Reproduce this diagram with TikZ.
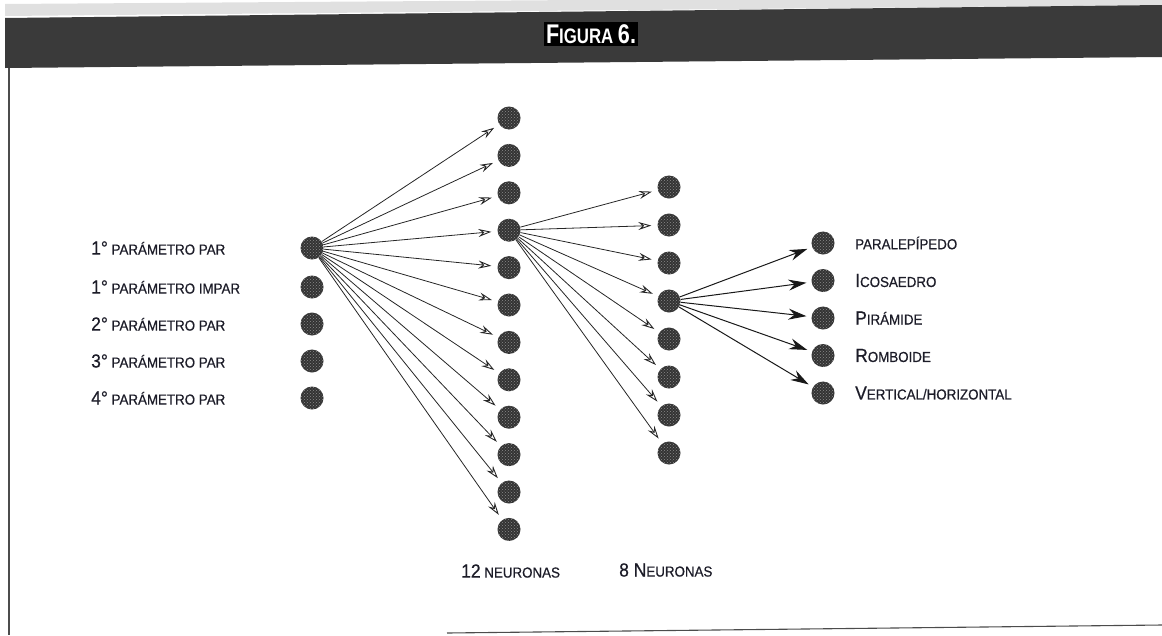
\documentclass[tikz,border=0pt]{standalone}
\usepackage{fontspec}
\setmainfont{Liberation Sans}[FakeStretch=0.92,FakeBold=0.6]
\newfontfamily\titlefont{Liberation Sans}[FakeStretch=0.8]
\usetikzlibrary{arrows.meta,patterns}
\newcommand\bg[1]{{\fontsize{19}{21}\selectfont #1}}
\newcommand\sm[1]{{\fontsize{14.5}{16}\selectfont #1}}
\definecolor{ink}{RGB}{28,28,40}
\definecolor{bar}{RGB}{58,58,58}
\tikzset{
  neuron/.style={circle,minimum size=23pt,inner sep=0pt,fill=black!80,
     postaction={pattern=crosshatch dots,pattern color=white!55!black}},
  lbl/.style={anchor=west,inner sep=0pt,text=ink},
  arrA/.style={draw=black!85,line width=0.8pt,shorten >=6pt,
     -{Stealth[open,length=13pt,width=8pt,inset=4.5pt,line width=0.9pt]}},
  arrB/.style={draw=black!90,line width=1pt,shorten >=5pt,
     -{Stealth[length=18pt,width=11pt,inset=6pt]}},
  frame/.style={draw=black!70,line width=1.4pt}
}
\begin{document}
\begin{tikzpicture}[x=1pt,y=-1pt]
\useasboundingbox (0,0) rectangle (1162,635);
% title bar
\fill[black!12] (5,4) -- (1162,-4) -- (1162,5) -- (5,16) -- cycle;
\fill[bar] (5,18) -- (1162,5) -- (1162,57) -- (5,68) -- cycle;
\node[fill=black,text=white,inner sep=2pt] (title) at (591,34)
  {\titlefont\bfseries\fontsize{27}{29}\selectfont F\fontsize{21}{23}\selectfont IGURA \fontsize{27}{29}\selectfont 6.};
% frame
\coordinate (fl1) at (9,68);
\coordinate (fl2) at (9,635);
\coordinate (fb1) at (447,633);
\coordinate (fb2) at (1162,625);
\draw[frame] (fl1) -- (fl2);
\draw[frame,line width=1.1pt] (fb1) -- (fb2);
% input layer
\foreach \i/\y in {1/248,2/287,3/324,4/361,5/398}
  \node[neuron] (in\i) at (312,\y) {};
\node[lbl] (l1) at (91,248) {\bg{1°}\sm{ PARÁMETRO PAR}};
\node[lbl] (l2) at (91,287) {\bg{1°}\sm{ PARÁMETRO IMPAR}};
\node[lbl] (l3) at (91,324) {\bg{2°}\sm{ PARÁMETRO PAR}};
\node[lbl] (l4) at (91,361) {\bg{3°}\sm{ PARÁMETRO PAR}};
\node[lbl] (l5) at (91,398) {\bg{4°}\sm{ PARÁMETRO PAR}};
% hidden layer 1
\foreach \i in {1,...,12}
  \node[neuron] (ha\i) at (509,{118+37.4*(\i-1)}) {};
% hidden layer 2
\foreach \i in {1,...,8}
  \node[neuron] (hb\i) at (669,{187+38*(\i-1)}) {};
% output layer
\foreach \i in {1,...,5}
  \node[neuron] (out\i) at (823,{243+37.5*(\i-1)}) {};
\node[lbl] (o1) at (855,243) {\sm{PARALEPÍPEDO}};
\node[lbl] (o2) at (855,280.5) {\bg{I}\sm{COSAEDRO}};
\node[lbl] (o3) at (855,318) {\bg{P}\sm{IRÁMIDE}};
\node[lbl] (o4) at (855,355.5) {\bg{R}\sm{OMBOIDE}};
\node[lbl] (o5) at (855,393) {\bg{V}\sm{ERTICAL/HORIZONTAL}};
% bottom labels
\node[lbl] (n12) at (461,571) {\bg{12}\sm{ NEURONAS}};
\node[lbl] (n8) at (619,570) {\bg{8 N}\sm{EURONAS}};
% connectors
\foreach \i in {1,...,12} \draw[arrA] (in1) -- (ha\i);
\foreach \i in {1,...,8} \draw[arrA] (ha4) -- (hb\i);
\foreach \i in {1,...,5} \draw[arrB] (hb4) -- (out\i);
\end{tikzpicture}
\end{document}
